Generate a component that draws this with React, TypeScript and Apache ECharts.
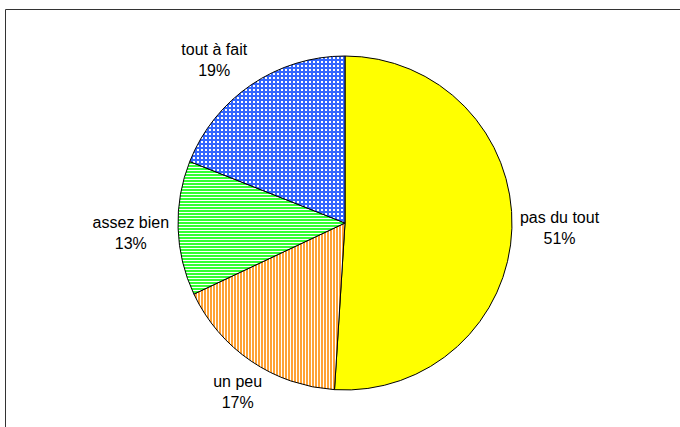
import React, { useEffect, useRef } from 'react';
import * as echarts from 'echarts';

const categories = ['pas du tout', 'un peu', 'assez bien', 'tout à fait'];
const values = [51, 17, 13, 19];

// label fine-tuning offsets (styling only)
const LABEL_NUDGE: number[][] = [[3, 0], [16, 31], [-4, 5], [1, -25]];

function makePattern(kind: string) {
  const c = document.createElement('canvas');
  let w = 4, h = 4;
  if (kind === 'orange') { w = 3; h = 1; }
  if (kind === 'green') { w = 1; h = 3; }
  c.width = w; c.height = h;
  const ctx = c.getContext('2d')!;
  ctx.fillStyle = '#ffffff';
  ctx.fillRect(0, 0, w, h);
  if (kind === 'blue') {
    ctx.fillStyle = '#3366ff';
    ctx.fillRect(0, 0, 4, 4);
    ctx.fillStyle = '#ffffff';
    ctx.fillRect(1, 1, 2, 2);
  } else if (kind === 'orange') {
    ctx.fillStyle = '#ffa235';
    ctx.fillRect(0, 0, 2, 1);
  } else if (kind === 'green') {
    ctx.fillStyle = '#33ff33';
    ctx.fillRect(0, 0, 1, 2);
  }
  return { image: c, repeat: 'repeat', imageWidth: w, imageHeight: h } as any;
}

export default function App() {
  const ref = useRef<HTMLDivElement>(null);
  useEffect(() => {
    document.body.style.margin = '0';
    const chart = echarts.init(ref.current!, null, { renderer: 'svg' });
    const fills = ['#ffff00', makePattern('orange'), makePattern('green'), makePattern('blue')];
    chart.setOption({
      animation: false,
      graphic: [
        {
          type: 'rect',
          silent: true,
          z: -1,
          shape: { x: 5.5, y: 9.5, width: 720, height: 460 },
          style: { fill: '#ffffff', stroke: '#333333', lineWidth: 1 },
        },
      ],
      series: [
        {
          type: 'pie',
          center: [345, 223],
          radius: 167,
          startAngle: 90,
          clockwise: true,
          avoidLabelOverlap: false,
          emphasis: { disabled: true },
          itemStyle: { borderColor: '#000000', borderWidth: 1 },
          label: {
            show: true,
            position: 'outside',
            formatter: '{b}\n{c}%',
            fontFamily: 'Liberation Sans, Arial, sans-serif',
            fontSize: 16,
            lineHeight: 21,
            color: '#000000',
          },
          labelLine: { show: false, length: 0, length2: 0 },
          labelLayout: (p: any) => {
            const r = p.labelRect;
            const n = LABEL_NUDGE[p.dataIndex] || [0, 0];
            return {
              x: r.x + r.width / 2 + n[0],
              y: r.y + r.height / 2 + n[1],
              align: 'center',
              verticalAlign: 'middle',
            };
          },
          data: categories.map((name, i) => ({
            name,
            value: values[i],
            itemStyle: { color: fills[i] },
          })),
        },
      ],
    });
    return () => chart.dispose();
  }, []);
  return <div ref={ref} style={{ width: 680, height: 427 }} />;
}
